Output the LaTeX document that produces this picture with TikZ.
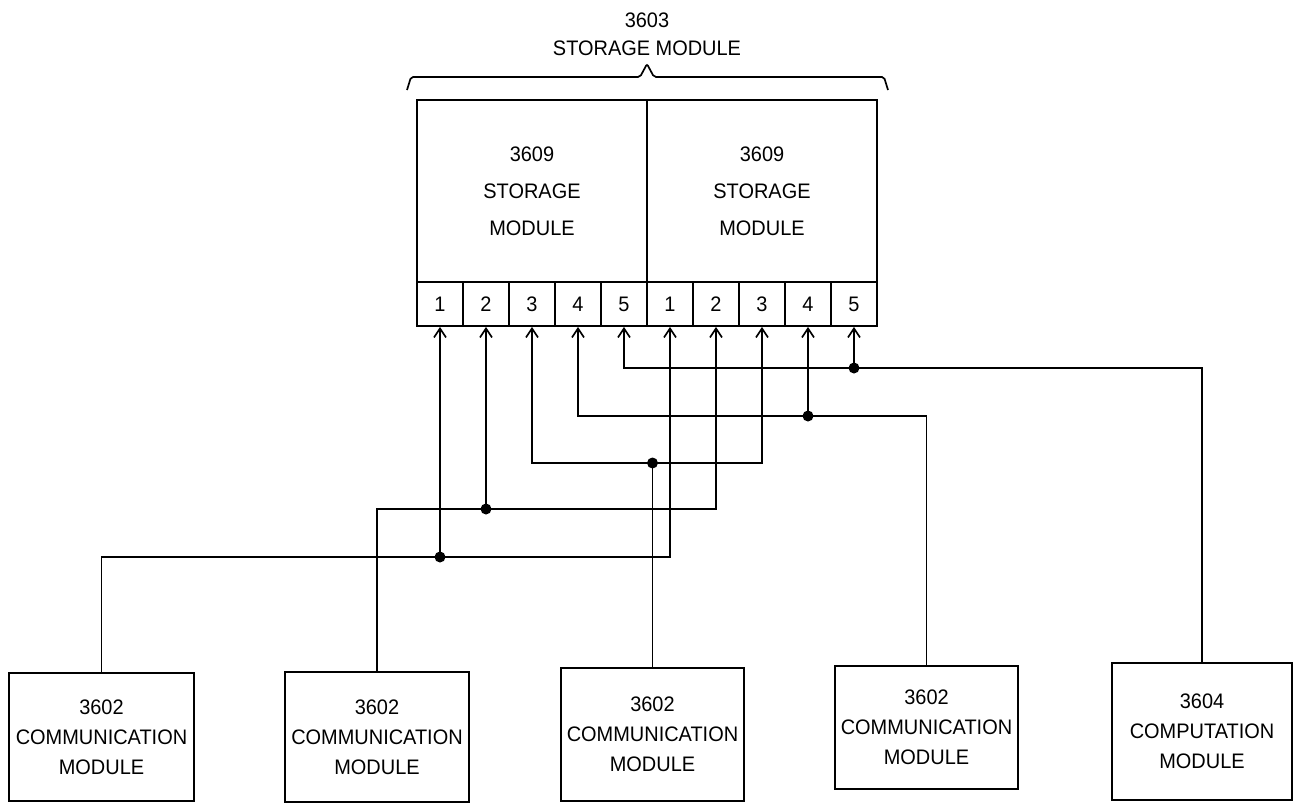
\documentclass[tikz,border=0pt]{standalone}
\usepackage{fontspec}
\setmainfont[FakeStretch=0.95]{Liberation Sans}
\usetikzlibrary{arrows.meta,calc}
\begin{document}
\begin{tikzpicture}[x=1pt,y=-1pt,
  font=\fontsize{21}{25}\selectfont,
  box/.style={draw, line width=1.8pt, inner sep=0pt, align=center},
  half/.style={box, minimum width=230pt, minimum height=182pt},
  port/.style={box, minimum width=46pt, minimum height=44pt},
  wire/.style={line width=1.7pt},
  tip/.tip={Straight Barb[length=9pt,width=12pt,line width=1.7pt]},
  arr/.style={wire, -tip},
  arrboth/.style={wire, tip-tip},
  dot/.style={circle, fill=black, inner sep=0pt, minimum size=11pt}]
\useasboundingbox (0,0) rectangle (1294,804);

% title and brace
\node[align=center] (title) at (647,34) {3603\\[3pt]STORAGE MODULE};
\draw[wire, rounded corners=2pt] (407,90) -- (411,77) -- (640,77) -- (647,64) -- (654,77) -- (884,77) -- (888,90);

% storage module halves
\node[half] (s1) at (532,191) {3609\\[12pt]STORAGE\\[12pt]MODULE};
\node[half] (s2) at (762,191) {3609\\[12pt]STORAGE\\[12pt]MODULE};

% ports
\foreach \i/\t in {1/1,2/2,3/3,4/4,5/5,6/1,7/2,8/3,9/4,10/5}
  \node[port] (p\i) at ({394+46*\i},304) {\t};

% lower modules
\node[box, minimum width=185pt, minimum height=128pt] (m1) at (101.5,737) {3602\\[5pt]COMMUNICATION\\[5pt]MODULE};
\node[box, minimum width=184pt, minimum height=130pt] (m2) at (377,737) {3602\\[5pt]COMMUNICATION\\[5pt]MODULE};
\node[box, minimum width=183pt, minimum height=133pt] (m3) at (652.5,734.5) {3602\\[5pt]COMMUNICATION\\[5pt]MODULE};
\node[box, minimum width=183pt, minimum height=123pt] (m4) at (926.5,727.5) {3602\\[5pt]COMMUNICATION\\[5pt]MODULE};
\node[box, minimum width=180pt, minimum height=137pt] (m5) at (1202,731.5) {3604\\[5pt]COMPUTATION\\[5pt]MODULE};

% bus levels
\coordinate (yA) at (0,557);
\coordinate (yB) at (0,509);
\coordinate (yC) at (0,463);
\coordinate (yD) at (0,416);
\coordinate (yE) at (0,368);

% bus A: module 1 -> port 1 and port 6
\draw[arr] (m1.north) -- (m1.north |- yA) -- (p6.south |- yA) -- (p6.south);
\node[dot] (jA) at (p1.south |- yA) {};
\draw[arr] (jA.center) -- (p1.south);

% bus B: module 2 -> port 2 and port 7
\draw[arr] (m2.north) -- (m2.north |- yB) -- (p7.south |- yB) -- (p7.south);
\node[dot] (jB) at (p2.south |- yB) {};
\draw[arr] (jB.center) -- (p2.south);

% bus C: module 3 -> port 3 and port 8
\draw[arrboth] (p3.south) -- (p3.south |- yC) -- (p8.south |- yC) -- (p8.south);
\node[dot] (jC) at (m3.north |- yC) {};
\draw[wire] (m3.north) -- (jC.center);

% bus D: module 4 -> port 4 and port 9
\draw[arr] (m4.north) -- (m4.north |- yD) -- (p4.south |- yD) -- (p4.south);
\node[dot] (jD) at (p9.south |- yD) {};
\draw[arr] (jD.center) -- (p9.south);

% bus E: module 5 -> port 5 and port 10
\draw[arr] (m5.north) -- (m5.north |- yE) -- (p5.south |- yE) -- (p5.south);
\node[dot] (jE) at (p10.south |- yE) {};
\draw[arr] (jE.center) -- (p10.south);
\end{tikzpicture}
\end{document}
